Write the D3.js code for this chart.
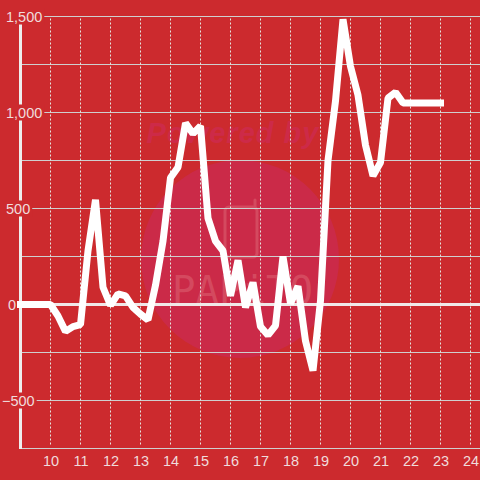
<!DOCTYPE html>
<html>
<head>
<meta charset="utf-8">
<script src="https://cdn.jsdelivr.net/npm/d3@7/dist/d3.min.js"></script>
<style>
html,body{margin:0;padding:0;background:#cc2a2e;}
svg{display:block;}
text{font-family:"Liberation Sans",Arial,sans-serif;}
</style>
</head>
<body>
<svg id="c" width="480" height="480"></svg>
<script>
const hours = [9,9.25,9.5,9.75,10,10.25,10.5,10.75,11,11.25,11.5,11.75,12,12.25,12.5,12.75,13,13.25,13.5,13.75,14,14.25,14.5,14.75,15,15.25,15.5,15.75,16,16.25,16.5,16.75,17,17.25,17.5,17.75,18,18.25,18.5,18.75,19,19.25,19.5,19.75,20,20.25,20.5,20.75,21,21.25,21.5,21.75,22,22.25,22.5,22.75,23];
const values = [0,0,0,0,0,-60,-140,-115,-105,280,545,90,-5,55,45,-15,-50,-80,100,330,660,715,945,890,930,450,330,280,45,230,-15,115,-115,-160,-110,250,5,95,-190,-345,20,750,1060,1485,1240,1090,830,670,740,1075,1105,1050,1050,1050,1050,1050,1050];
const xTicks = [10,11,12,13,14,15,16,17,18,19,20,21,22,23,24];
const yTicks = [1500,1250,1000,750,500,250,0,-250,-500,-750];
const yLabels = [1500,1000,500,0,-500];
const bg = "#cc2a2e";

const svg = d3.select("#c");
const x = d3.scaleLinear().domain([9,25]).range([20.5,500.5]);
const y = d3.scaleLinear().domain([-750,1500]).range([448.5,16.5]);

svg.append("rect").attr("width",480).attr("height",480).attr("fill",bg);

// watermark
svg.append("circle").attr("cx",240).attr("cy",259).attr("r",99).attr("fill","#cb2a48");
svg.append("text").attr("x",233).attr("y",143).attr("text-anchor","middle")
  .attr("font-size",29).attr("font-weight","bold").attr("font-style","italic")
  .attr("letter-spacing",1).attr("fill","#cd2a48").text("Powered by");
svg.append("rect").attr("x",225).attr("y",207).attr("width",32).attr("height",50).attr("rx",4)
  .attr("fill","none").attr("stroke","#d4495f").attr("stroke-width",3);
svg.append("path").attr("d","M255 208V200").attr("stroke","#d4495f").attr("stroke-width",3).attr("stroke-linecap","round");
svg.append("text").attr("x",172).attr("y",304)
  .attr("font-size",39).attr("fill","#d4495f")
  .style("font-family","'DejaVu Sans Mono'").text("PAPiTO");

// grid
svg.append("g").selectAll("line").data(yTicks.filter(d=>d!==0)).join("line")
  .attr("x1",x(9)).attr("x2",480).attr("y1",d=>Math.floor(y(d))+0.5).attr("y2",d=>Math.floor(y(d))+0.5)
  .attr("stroke","#cfcfcf").attr("stroke-width",1);
svg.append("g").selectAll("line").data(xTicks).join("line")
  .attr("x1",d=>x(d)).attr("x2",d=>x(d)).attr("y1",y(1500)+2).attr("y2",y(-750)-3)
  .attr("stroke","#e4e4e0").attr("stroke-width",1).attr("stroke-dasharray","2 2");

// axes
svg.append("line").attr("x1",x(9)).attr("x2",x(9)).attr("y1",y(1500)).attr("y2",y(-750)+0.5)
  .attr("stroke","#eeeeee").attr("stroke-width",3);
svg.append("line").attr("x1",x(9)).attr("x2",480).attr("y1",y(0)).attr("y2",y(0))
  .attr("stroke","#f0e8e8").attr("stroke-width",3);

// y labels with background
const offs = {1500:6,1000:6,500:6,0:8,"-500":2};
const fmt = d3.format(",");
const gl = svg.append("g").selectAll("g").data(yLabels).join("g");
gl.append("rect").attr("fill",bg);
gl.append("text").attr("x",d=>offs[d]).attr("y",d=>y(d)+5).attr("font-size",14.5).attr("fill","#f0dcdc").text(d=>fmt(d));
gl.each(function(){
  const b = d3.select(this).select("text").node().getBBox();
  d3.select(this).select("rect").attr("x",0).attr("width",b.x+b.width+2)
    .attr("y",b.y).attr("height",b.height);
});

// x labels
svg.append("g").selectAll("text").data(xTicks).join("text")
  .attr("x",d=>x(d)+0.5).attr("y",466).attr("text-anchor","middle")
  .attr("font-size",14.5).attr("fill","#f0dcdc").text(d=>d);

// series
const line = d3.line().x((d,i)=>x(hours[i])).y(d=>y(d)).curve(d3.curveLinear);
svg.append("path").datum(values).attr("d",line).attr("fill","none")
  .attr("stroke","#ffffff").attr("stroke-width",7).attr("stroke-linecap","square").attr("stroke-linejoin","bevel");
</script>
</body>
</html>
